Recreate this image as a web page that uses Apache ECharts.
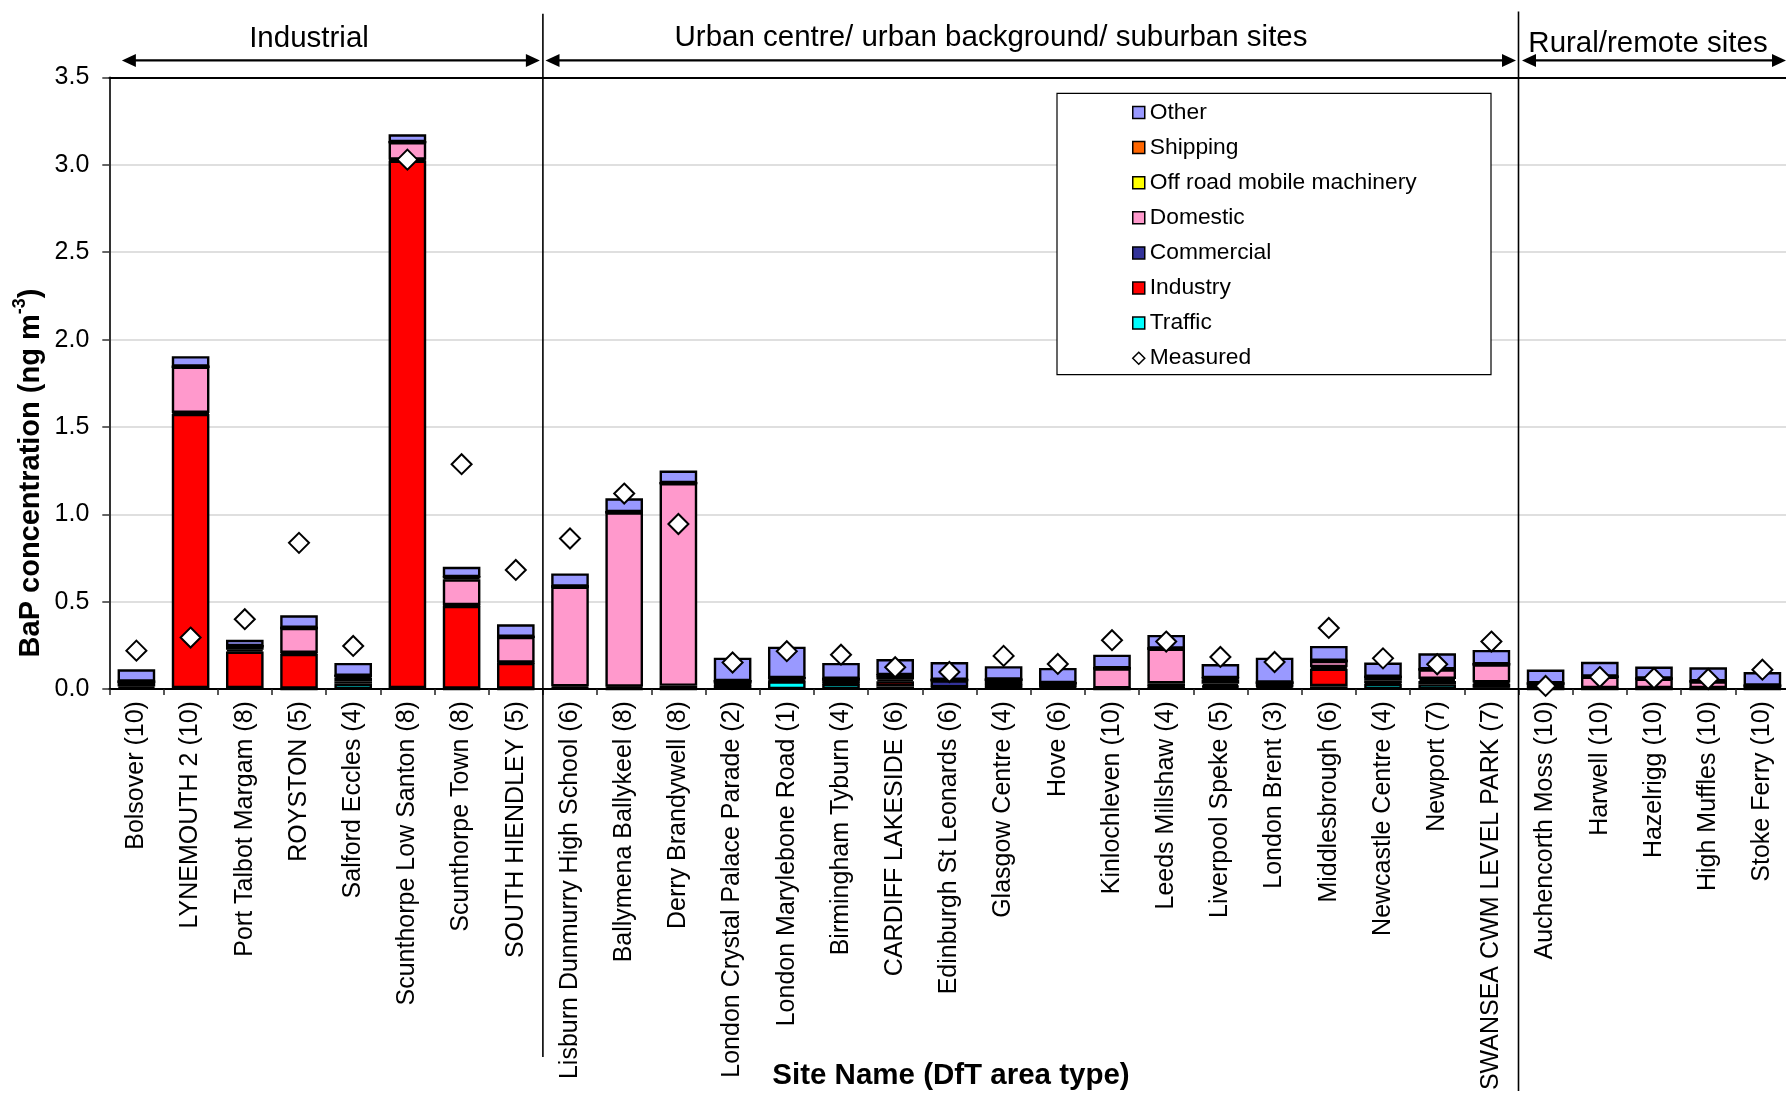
<!DOCTYPE html>
<html>
<head>
<meta charset="utf-8">
<script src="https://cdn.jsdelivr.net/npm/echarts@6/dist/echarts.min.js"></script>
<style>
  html, body { margin: 0; padding: 0; background: #fff; }
  #chart { width: 1786px; height: 1094px; }
</style>
</head>
<body>
<div id="chart"></div>
<script>
// Monitoring sites, grouped by area type (number of sites in each group below)
const sites = [
  'Bolsover (10)', 'LYNEMOUTH 2 (10)', 'Port Talbot Margam (8)', 'ROYSTON (5)', 'Salford Eccles (4)',
  'Scunthorpe Low Santon (8)', 'Scunthorpe Town (8)', 'SOUTH HIENDLEY (5)',
  'Lisburn Dunmurry High School (6)', 'Ballymena Ballykeel (8)', 'Derry Brandywell (8)',
  'London Crystal Palace Parade (2)', 'London Marylebone Road (1)', 'Birmingham Tyburn (4)',
  'CARDIFF LAKESIDE (6)', 'Edinburgh St Leonards (6)', 'Glasgow Centre (4)', 'Hove (6)',
  'Kinlochleven (10)', 'Leeds Millshaw (4)', 'Liverpool Speke (5)', 'London Brent (3)',
  'Middlesbrough (6)', 'Newcastle Centre (4)', 'Newport (7)', 'SWANSEA CWM LEVEL PARK (7)',
  'Auchencorth Moss (10)', 'Harwell (10)', 'Hazelrigg (10)', 'High Muffles (10)', 'Stoke Ferry (10)'
];
const groupNames = ['Industrial', 'Urban centre/ urban background/ suburban sites', 'Rural/remote sites'];
const groupSizes = [8, 18, 5];

// Modelled BaP contributions by source sector (ng m-3)
const traffic = [0.005, 0.005, 0.005, 0.002, 0.03, 0.005, 0.002, 0.002,
  0.003, 0.002, 0.002, 0.025, 0.045, 0.03, 0.015, 0.008, 0.022, 0.012, 0.001, 0.015, 0.012, 0.013, 0.017, 0.03, 0.028, 0.008,
  0.001, 0.001, 0.001, 0.001, 0.001];
const industry = [0.01, 1.57, 0.21, 0.2, 0.015, 3.02, 0.475, 0.148,
  0.002, 0.002, 0.002, 0.003, 0.002, 0.003, 0.03, 0.002, 0.002, 0.002, 0.001, 0.003, 0.005, 0.002, 0.1, 0.005, 0.018, 0.022,
  0.001, 0.001, 0.001, 0.001, 0.001];
const commercial = [0.025, 0.005, 0.01, 0.005, 0.02, 0.005, 0.003, 0.002,
  0.01, 0.01, 0.015, 0.015, 0.013, 0.022, 0.01, 0.04, 0.028, 0.018, 0.002, 0.015, 0.013, 0.02, 0.008, 0.015, 0.012, 0.008,
  0.005, 0.003, 0.003, 0.003, 0.003];
const domestic = [0.003, 0.265, 0.02, 0.143, 0.01, 0.1, 0.148, 0.147,
  0.572, 0.998, 1.16, 0.002, 0.003, 0.003, 0.02, 0.002, 0.002, 0.002, 0.115, 0.199, 0.025, 0.002, 0.036, 0.02, 0.055, 0.104,
  0.025, 0.066, 0.055, 0.039, 0.015];
const offRoad = [0, 0, 0.001, 0, 0, 0, 0.012, 0,
  0, 0, 0, 0, 0, 0, 0.005, 0, 0, 0, 0, 0, 0.008, 0, 0, 0, 0, 0,
  0, 0, 0, 0, 0];
const shipping = [0, 0, 0, 0, 0, 0, 0, 0,
  0, 0, 0, 0, 0, 0, 0, 0, 0, 0, 0, 0, 0, 0, 0, 0, 0, 0,
  0, 0, 0, 0, 0];
const other = [0.07, 0.06, 0.036, 0.072, 0.075, 0.045, 0.06, 0.072,
  0.075, 0.08, 0.072, 0.135, 0.18, 0.092, 0.092, 0.103, 0.077, 0.087, 0.078, 0.078, 0.08, 0.143, 0.086, 0.082, 0.092, 0.082,
  0.08, 0.085, 0.069, 0.081, 0.078];
// Measured annual mean concentrations (ng m-3)
const measured = [0.22, 0.295, 0.40, 0.837, 0.247, 3.03, 1.287, 0.682,
  0.862, 1.119, 0.945, 0.152, 0.217, 0.197, 0.125, 0.098, 0.19, 0.144, 0.28, 0.272, 0.184, 0.155, 0.35, 0.176, 0.142, 0.272,
  0.018, 0.069, 0.062, 0.058, 0.111];

const yTicks = { min: 0, max: 3.5, step: 0.5 };

const FONT = '"Liberation Sans", Arial, Helvetica, sans-serif';

// sector name, values, fill colour — listed bottom of the stack first
const sectors = [
  ['Traffic', traffic, '#00FFFF'],
  ['Industry', industry, '#FF0000'],
  ['Commercial', commercial, '#333399'],
  ['Domestic', domestic, '#FF99CC'],
  ['Off road mobile machinery', offRoad, '#FFFF00'],
  ['Shipping', shipping, '#FF6600'],
  ['Other', other, '#9999FF']
];

const chart = echarts.init(document.getElementById('chart'), null, { renderer: 'canvas' });

const barSeries = sectors.map(([name, values, color]) => ({
  name: name,
  type: 'bar',
  stack: 'sources',
  data: values,
  barCategoryGap: '30.6%',
  itemStyle: { color: color, borderColor: '#000', borderWidth: 2.4 },
  emphasis: { disabled: true }
}));

const measuredSeries = {
  name: 'Measured',
  type: 'scatter',
  data: measured,
  symbol: 'diamond',
  symbolSize: [20, 20],
  z: 10,
  itemStyle: { color: '#fff', borderColor: '#000', borderWidth: 2, opacity: 1 },
  emphasis: { disabled: true }
};

const legendNames = ['Other', 'Shipping', 'Off road mobile machinery', 'Domestic', 'Commercial', 'Industry', 'Traffic'];

chart.setOption({
  animation: false,
  backgroundColor: '#fff',
  grid: { left: 109.3, top: 77.5, width: 1680.2, height: 611.6, containLabel: false, outerBoundsMode: 'none' },
  xAxis: [{
    type: 'category',
    data: sites,
    axisLine: { lineStyle: { color: '#000', width: 2 } },
    axisTick: { show: true, length: 6, lineStyle: { color: '#222', width: 1.5 } },
    axisLabel: { interval: 0, rotate: 90, fontSize: 25, fontFamily: FONT, color: '#000', margin: 12 },
    splitLine: { show: false }
  }, {
    type: 'category',
    position: 'top',
    data: sites,
    axisLine: { lineStyle: { color: '#000', width: 2 } },
    axisTick: { show: false },
    axisLabel: { show: false },
    splitLine: { show: false }
  }],
  yAxis: {
    type: 'value',
    min: yTicks.min,
    max: yTicks.max,
    interval: yTicks.step,
    axisLine: { show: true, lineStyle: { color: '#333', width: 2 } },
    axisTick: { show: true, length: 7, lineStyle: { color: '#333', width: 1.5 } },
    axisLabel: { formatter: v => v.toFixed(1), fontSize: 25, fontFamily: FONT, color: '#000', margin: 20,
      padding: [4, 0, 0, 0] },
    splitLine: { lineStyle: { color: '#d4d4d4', width: 1.5 } }
  },
  legend: {
    orient: 'vertical',
    left: 1127,
    top: 96,
    itemWidth: 12,
    itemHeight: 12,
    itemGap: 12.1,
    selectedMode: false,
    data: legendNames.map(n => ({ name: n, icon: 'rect' }))
      .concat([{ name: 'Measured', icon: 'diamond', itemStyle: { color: '#fff', borderColor: '#000', borderWidth: 1.5 } }]),
    itemStyle: { borderColor: '#000', borderWidth: 1.5 },
    textStyle: { fontSize: 22.8, fontFamily: FONT, color: '#000', lineHeight: 22 },
    z: 5
  },
  series: barSeries.concat([measuredSeries])
});

// Group dividers, double-headed arrows and annotation text
const px = i => chart.convertToPixel({ xAxisIndex: 0 }, i);
const step = px(1) - px(0);
const boundary = k => px(0) - step / 2 + k * step;
const b1 = boundary(groupSizes[0]);
const b2 = boundary(groupSizes[0] + groupSizes[1]);
const arrowY = 60.4;

function arrow(x1, x2) {
  const head = 14, half = 6.5;
  return [
    { type: 'line', shape: { x1: x1 + head - 1, y1: arrowY, x2: x2 - head + 1, y2: arrowY },
      style: { stroke: '#000', lineWidth: 2.4 } },
    { type: 'polygon', shape: { points: [[x1, arrowY], [x1 + head, arrowY - half], [x1 + head, arrowY + half]] },
      style: { fill: '#000' } },
    { type: 'polygon', shape: { points: [[x2, arrowY], [x2 - head, arrowY - half], [x2 - head, arrowY + half]] },
      style: { fill: '#000' } }
  ];
}

function label(text, x, y) {
  return { type: 'text', x: x, y: y,
    style: { text: text, fontSize: 29.5, fontFamily: FONT, fill: '#000', align: 'center', verticalAlign: 'middle' } };
}

const graphics = [
  { type: 'line', shape: { x1: b1, y1: 13.7, x2: b1, y2: 1057 }, style: { stroke: '#000', lineWidth: 1.6 } },
  { type: 'line', shape: { x1: b2, y1: 11.4, x2: b2, y2: 1091 }, style: { stroke: '#000', lineWidth: 1.6 } },
  ...arrow(boundary(0) + 12.6, b1 - 3),
  ...arrow(b1 + 2.6, b2 - 2.5),
  ...arrow(b2 + 3.5, 1786),
  label(groupNames[0], 309, 38.8),
  label(groupNames[1], 991, 37.6),
  label(groupNames[2], 1648, 44.3),
  { type: 'text', x: 951, y: 1075.5,
    style: { text: 'Site Name (DfT area type)', fontSize: 29.5, fontWeight: 'bold', fontFamily: FONT,
      fill: '#000', align: 'center', verticalAlign: 'middle' } },
  { type: 'text', x: 28.5, y: 473, rotation: Math.PI / 2,
    style: {
      text: '{a|BaP concentration (ng m}{s|-3}{a|)}',
      align: 'center', verticalAlign: 'middle',
      rich: {
        a: { fontSize: 29, fontWeight: 'bold', fontFamily: FONT, fill: '#000', lineHeight: 34, verticalAlign: 'bottom' },
        s: { fontSize: 18, fontWeight: 'bold', fontFamily: FONT, fill: '#000', lineHeight: 34, verticalAlign: 'top' }
      }
    } }
].map(g => Object.assign({ z: 6 }, g));

// Legend frame sits under the legend but above the grid lines
graphics.unshift({ type: 'rect', z: 3, shape: { x: 1057, y: 93.4, width: 434, height: 281.3 },
  style: { fill: '#fff', stroke: '#000', lineWidth: 1.2 } });

chart.setOption({ graphic: graphics });
</script>
</body>
</html>
